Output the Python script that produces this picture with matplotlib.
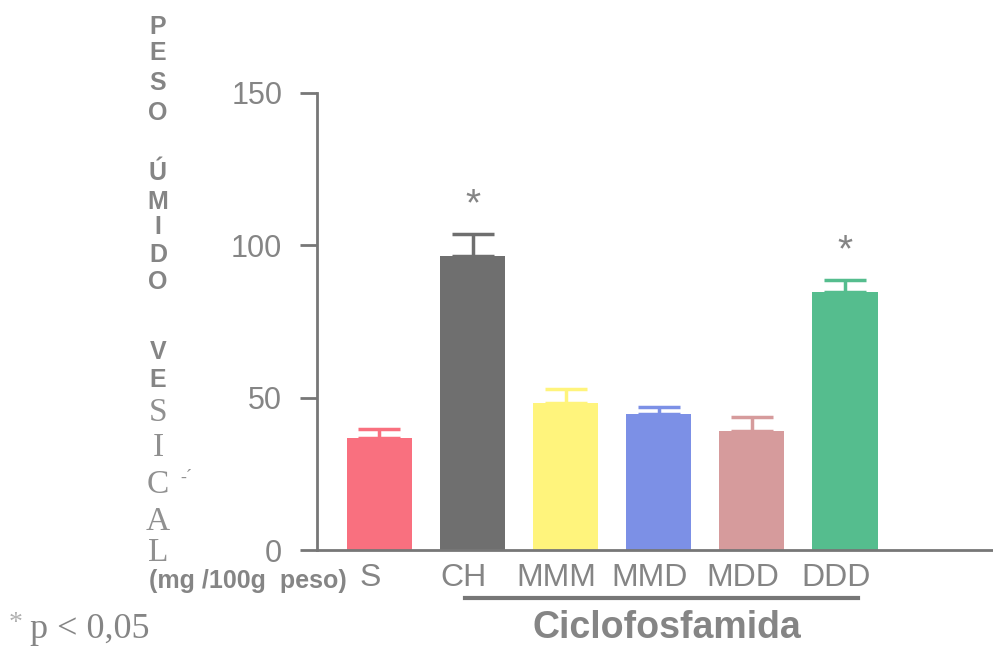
import numpy as np
import matplotlib.pyplot as plt
from matplotlib import transforms

# Data
grupos = ['S', 'CH', 'MMM', 'MMD', 'MDD', 'DDD']
peso = [36.7, 96.6, 48.4, 44.7, 39.0, 84.7]
error = [3.0, 7.2, 4.6, 2.3, 4.5, 3.9]
colores = ['#f9707f', '#6f6f6f', '#fff47c', '#7c90e6', '#d69b9c', '#55bd8e']
significativo = [False, True, False, False, False, True]

gris = '#858585'
W, H = 993, 648

fig = plt.figure(figsize=(9.93, 6.48), dpi=100)
ax = fig.add_axes([317/W, 1-550/H, 1-317/W, (550-93)/H])

x = np.arange(len(grupos))
ax.bar(x, peso, width=0.70, color=colores, zorder=2)
for xi, v, e, c in zip(x, peso, error, colores):
    ax.errorbar(xi, v, yerr=[[0], [e]], color=c, lw=2.5, capsize=15,
                capthick=2.5, zorder=1)

# asterisks
for xi, v, e, s in zip(x, peso, error, significativo):
    if s:
        ax.text(xi, v + e + 9.5, '*', ha='center', va='center',
                fontsize=28, color=gris, family='Liberation Sans')

ax.set_xlim(-0.671, 6.59)
ax.set_ylim(0, 150)
ax.set_yticks([0, 50, 100, 150])
for sp in ['top', 'right']:
    ax.spines[sp].set_visible(False)
for sp in ['left', 'bottom']:
    ax.spines[sp].set_color('#777777')
    ax.spines[sp].set_linewidth(2)
ax.tick_params(axis='y', length=12, width=2, color='#777777', pad=13,
               labelsize=22, labelcolor=gris)
ax.tick_params(axis='x', length=0, pad=9, labelsize=23, labelcolor=gris)
ax.set_xticks(x)
ax.set_xticklabels(grupos, family='Liberation Sans')
for lab in ax.get_yticklabels():
    lab.set_family('Liberation Sans')
off = transforms.ScaledTranslation(-9/100, 0, fig.dpi_scale_trans)
for lab in ax.get_xticklabels():
    lab.set_transform(lab.get_transform() + off)

# Ciclofosfamida bracket
tr = transforms.blended_transform_factory(ax.transData, fig.transFigure)
ax.plot([0.92, 5.14], [1-598/H, 1-598/H], color='#777777', lw=3,
        transform=tr, clip_on=False)
fig.text(667/W, 1-628/H, 'Ciclofosfamida', ha='center', va='center',
         fontsize=27, fontweight='bold', color=gris, family='Liberation Sans')

# vertical stacked y label
letras_sans = ['P', 'E', 'S', 'O', 'Ú', 'M', 'I', 'D', 'O', 'V', 'E']
y_sans = [27, 53, 83, 113, 173, 202, 227, 255, 282, 352, 380]
for l, yp in zip(letras_sans, y_sans):
    fig.text(158/W, 1-yp/H, l, ha='center', va='center', fontsize=18,
             fontweight='bold', color=gris, family='Liberation Sans')
letras_serif = ['S', 'I', 'C', 'A', 'L']
y_serif = [413, 448, 485, 522, 553]
for l, yp in zip(letras_serif, y_serif):
    fig.text(158/W, 1-yp/H, l, ha='center', va='center', fontsize=24,
             color='#909090', family='Liberation Serif')
fig.text(186/W, 1-477/H, '-´', ha='center', va='center', fontsize=13,
         color='#909090', family='Liberation Serif')

fig.text(149/W, 1-581/H, '(mg /100g  peso)', ha='left', va='center',
         fontsize=18, fontweight='bold', color=gris, family='Liberation Sans')

fig.text(9/W, 1-624/H, '*', ha='left', va='center', fontsize=20,
         color='#b0b0b0', family='Liberation Serif')
fig.text(30/W, 1-630/H, 'p < 0,05', ha='left', va='center', fontsize=26,
         color=gris, family='Liberation Serif')

fig.savefig('out.png', dpi=100)
